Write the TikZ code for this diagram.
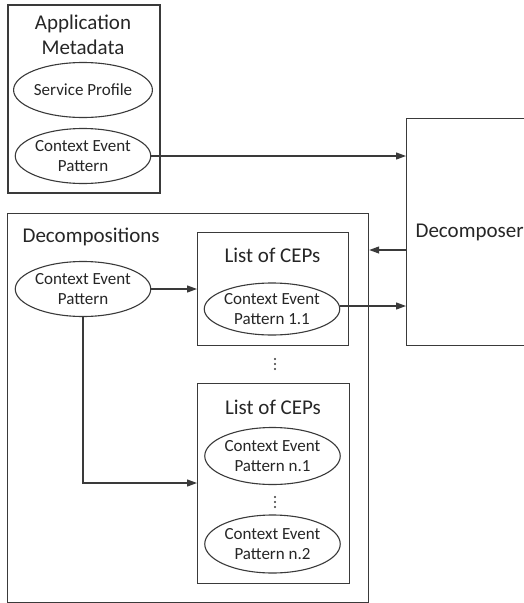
\documentclass[tikz,border=0pt]{standalone}
\usepackage{fontspec}
\setmainfont{Carlito}
\usetikzlibrary{arrows.meta,shapes.geometric}
\definecolor{ink}{HTML}{3A3A3A}
\definecolor{txt}{HTML}{262626}
\begin{document}
\begin{tikzpicture}[x=1pt,y=-1pt,
  line width=1.2pt, draw=ink, text=txt,
  box/.style={draw=ink, line width=1.2pt},
  bigtxt/.style={font=\fontsize{21}{25}\selectfont, align=center, inner sep=0pt},
  cep/.style={draw=ink, ellipse, line width=1.1pt, inner sep=0pt,
    minimum width=130pt, minimum height=55pt, align=center,
    font=\fontsize{17}{20}\selectfont},
  link/.style={draw=ink, line width=1.2pt, -{Triangle[length=10pt,width=7pt]}},
  dot/.style={fill=ink, draw=none}]
\useasboundingbox (0,0) rectangle (524,603);
\clip (0,0) rectangle (524,603);
\fill[white] (0,0) rectangle (524,603);

% Application metadata panel
\draw[box] (8,5) rectangle (160,193);
\node[bigtxt] (apptitle) at (83,34.5) {Application\\Metadata};
\node[cep] (sp) at (83,90) {Service Profile};
\node[cep] (cepA) at (83,156) {Context Event\\Pattern};

% Decomposer block (continues past the right border)
\node[draw=ink, line width=1.2pt, anchor=north west, minimum height=227pt,
  text width=150pt, align=left, inner xsep=9pt,
  font=\fontsize{21}{25}\selectfont] (dec) at (406,118) {Decomposer};

% Decompositions panel
\node[draw=ink, line width=1.2pt, anchor=north west, minimum width=361pt,
  minimum height=389pt, inner sep=0pt] (decs) at (7,213) {};
\node[bigtxt, anchor=west] (decstitle) at (22,237) {Decompositions};
\node[cep] (cepB) at (83,289) {Context Event\\Pattern};

% First list of CEPs
\node[draw=ink, line width=1.2pt, anchor=north west, minimum width=151pt,
  minimum height=113pt, inner sep=0pt] (list1) at (197,232) {};
\node[bigtxt] (list1title) at (272.5,255) {List of CEPs};
\node[cep, minimum height=52pt] (c11) at (272,309) {Context Event\\Pattern 1.1};

% dots between the lists
\foreach \yy in {359,364,369} \fill[dot] (275,\yy) circle (1.2pt);

% Second list of CEPs
\node[draw=ink, line width=1.2pt, anchor=north west, minimum width=152pt,
  minimum height=200pt, inner sep=0pt] (list2) at (197,383) {};
\node[bigtxt] (list2title) at (273,407) {List of CEPs};
\node[cep, minimum height=57pt] (cn1) at (272.5,456) {Context Event\\Pattern n.1};
\foreach \yy in {497,502,507} \fill[dot] (275,\yy) circle (1.2pt);
\node[cep, minimum height=58pt] (cn2) at (272.5,544) {Context Event\\Pattern n.2};

% connectors
\draw[link] (cepA.east) -- (cepA.east -| dec.west);
\draw[link] (dec.west |- 0,250) -- (decs.east |- 0,250);
\draw[link] (cepB.east) -- (cepB.east -| list1.west);
\draw[link] (c11.east |- 0,306) -- (dec.west |- 0,306);
\draw[link] (cepB.south) |- (list2.west |- 0,483);
\end{tikzpicture}
\end{document}
